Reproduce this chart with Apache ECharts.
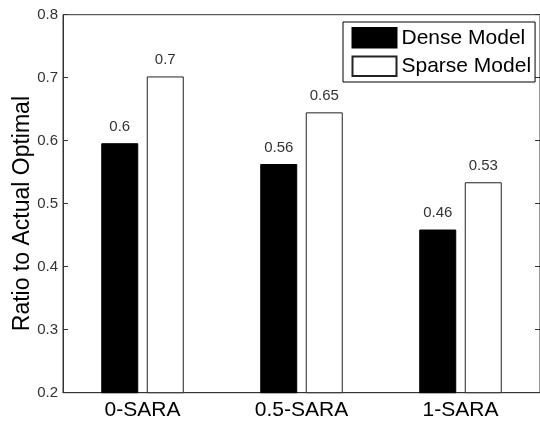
<!DOCTYPE html>
<html>
<head>
<meta charset="utf-8">
<script src="https://cdn.jsdelivr.net/npm/echarts@6/dist/echarts.min.js"></script>
<style>html,body{margin:0;padding:0;background:#fff;}#c{width:540px;height:421px;}</style>
</head>
<body>
<div id="c"></div>
<script>
var categories = ['0-SARA', '0.5-SARA', '1-SARA'];
var denseValues = [0.596, 0.563, 0.459];
var sparseValues = [0.702, 0.645, 0.534];
var denseLabels = ['0.6', '0.56', '0.46'];
var sparseLabels = ['0.7', '0.65', '0.53'];
var yTicks = [0.2, 0.3, 0.4, 0.5, 0.6, 0.7, 0.8];

var FONT = 'Liberation Sans, Arial, Helvetica, sans-serif';
var chart = echarts.init(document.getElementById('c'), null, {renderer: 'canvas'});
chart.setOption({
  animation: false,
  backgroundColor: '#fff',
  textStyle: {fontFamily: FONT},
  grid: {left: 63, top: 14.7, bottom: 28.3, width: 479, show: true, borderColor: '#333', borderWidth: 1, backgroundColor: 'transparent'},
  legend: {
    orient: 'vertical', left: 343, top: 22,
    padding: [5, 4, 5, 8.5], itemWidth: 44, itemHeight: 19.5, itemGap: 7,
    borderColor: '#000', borderWidth: 1, backgroundColor: '#fff',
    textStyle: {fontSize: 21, color: '#000', fontFamily: FONT},
    data: [{name: 'Dense Model', icon: 'rect'}, {name: 'Sparse Model', icon: 'rect'}]
  },
  xAxis: {
    type: 'category', data: categories,
    axisLine: {show: true, lineStyle: {color: '#333'}},
    axisTick: {show: false},
    axisLabel: {fontSize: 21, color: '#000', margin: 7, fontFamily: FONT}
  },
  yAxis: [{
    type: 'value', min: 0.2, max: 0.8, interval: 0.1,
    axisLine: {show: true, lineStyle: {color: '#333'}},
    axisTick: {show: true, inside: true, length: 5, lineStyle: {color: '#333'}},
    splitLine: {show: false},
    axisLabel: {fontSize: 15, color: '#333', margin: 5, fontFamily: FONT,
      formatter: function (v) { return (Math.round(v * 10) / 10).toFixed(1); }}
  }, {
    type: 'value', min: 0.2, max: 0.8, interval: 0.1, position: 'right',
    axisLine: {show: true, lineStyle: {color: '#333'}},
    axisTick: {show: true, inside: true, length: 5, lineStyle: {color: '#333'}},
    splitLine: {show: false},
    axisLabel: {show: false}
  }],
  series: [{
    name: 'Dense Model', type: 'bar', data: denseValues,
    barWidth: 37, barGap: '23%',
    itemStyle: {color: '#000', borderColor: '#000', borderWidth: 1},
    label: {show: true, position: 'top', distance: 9, fontSize: 15, color: '#333', fontFamily: FONT,
      formatter: function (p) { return denseLabels[p.dataIndex]; }}
  }, {
    name: 'Sparse Model', type: 'bar', data: sparseValues,
    barWidth: 37, barGap: '23%',
    itemStyle: {color: '#fff', borderColor: '#222', borderWidth: 1},
    label: {show: true, position: 'top', distance: 9, fontSize: 15, color: '#333', fontFamily: FONT,
      formatter: function (p) { return sparseLabels[p.dataIndex]; }}
  }],
  graphic: [{
    type: 'text', left: 11, top: 96, rotation: Math.PI / 2,
    style: {text: 'Ratio to Actual Optimal', fontSize: 23, fill: '#000', font: '23px ' + FONT}
  }]
});
</script>
</body>
</html>
